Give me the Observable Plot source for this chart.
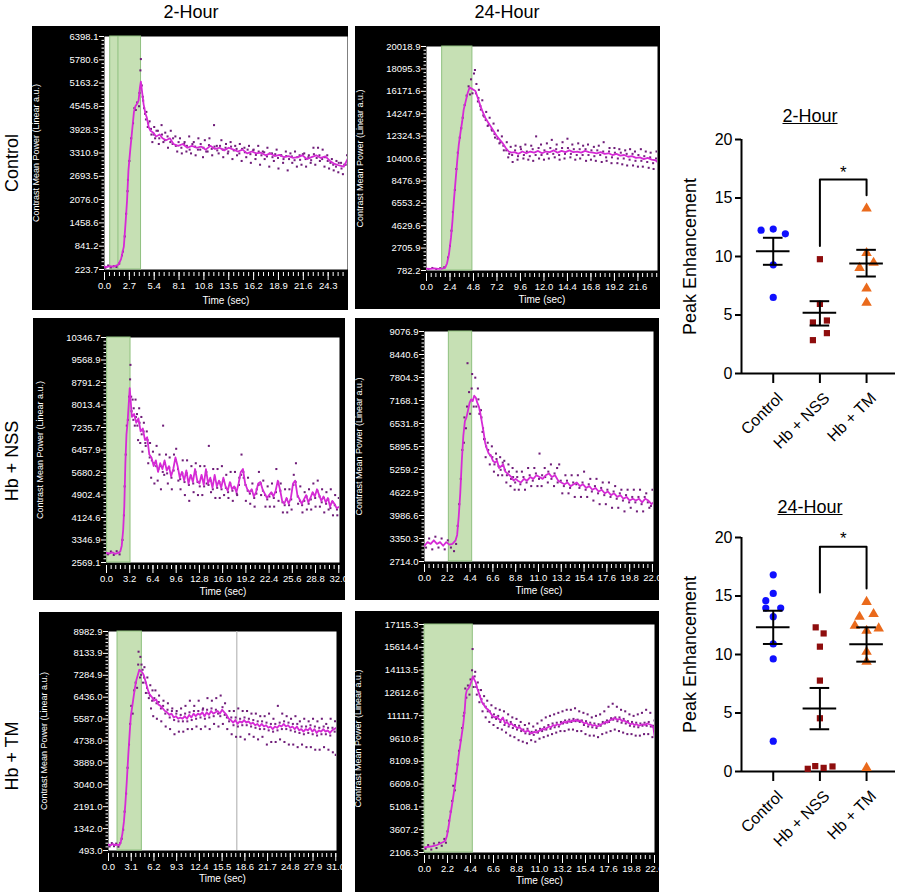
<!DOCTYPE html>
<html><head><meta charset="utf-8">
<script src="https://cdn.jsdelivr.net/npm/d3@7"></script>
<script src="https://cdn.jsdelivr.net/npm/@observablehq/plot@0.6"></script>
<style>
body{margin:0;background:#fff;}
#root{position:relative;width:900px;height:894px;overflow:hidden;font-family:Arial,"Liberation Sans",sans-serif;color:#000;}
#root svg{position:absolute;}
.col{position:absolute;top:1px;font-size:18px;line-height:18px;transform:translateX(-50%);white-space:nowrap;}
.row{position:absolute;font-size:18px;line-height:18px;white-space:nowrap;transform:translate(-50%,-50%) rotate(-90deg);}
.ttl{position:absolute;font-size:18px;line-height:18px;text-decoration:underline;transform:translateX(-50%);white-space:nowrap;}
</style></head><body><div id="root"></div>
<script>
// ---------------- Time-intensity curves ----------------
const ctrl2hYTicks = [223.7, 841.2, 1458.6, 2076.0, 2693.5, 3310.9, 3928.3, 4545.8, 5163.2, 5780.6, 6398.1];
const ctrl2hXTicks = [0.0, 2.7, 5.4, 8.1, 10.8, 13.5, 16.2, 18.9, 21.6, 24.3];
const ctrl2hBand = [0.62, 3.97];
const ctrl2hLine = [[0,300],[0.3,290],[0.6,310],[0.9,300],[1.2,320],[1.5,350],[1.8,500],[2.1,830],[2.3,1500],[2.45,2050],[2.6,2850],[2.8,3400],[3.0,3900],[3.2,4400],[3.35,4550],[3.5,4600],[3.7,4700],[3.85,5050],[3.95,5200],[4.1,4900],[4.25,4600],[4.45,4350],[4.6,4250],[4.8,4000],[5.0,3900],[5.3,3850],[5.6,3750],[6.0,3800],[6.3,3700],[6.7,3650],[7.1,3700],[7.5,3550],[8.0,3500],[8.5,3550],[9.0,3450],[9.5,3500],[10.0,3450],[10.5,3480],[11.0,3400],[11.5,3500],[12.0,3420],[12.5,3450],[13.0,3380],[13.5,3450],[14.0,3400],[14.5,3350],[15.0,3400],[15.5,3300],[16.0,3350],[16.5,3300],[17.0,3320],[17.5,3250],[18.0,3300],[18.5,3230],[19.0,3260],[19.5,3200],[20.0,3230],[20.5,3180],[21.0,3200],[21.5,3250],[22.0,3150],[22.5,3200],[23.0,3250],[23.5,3180],[24.0,3220],[24.5,3100],[25.0,3020],[25.5,2980],[26.0,2950],[26.4,3150]];
const ctrl2hDots = [[0.1,270],[0.4,330],[0.7,280],[1.0,310],[1.3,290],[1.6,380],[1.9,600],[2.0,700],[2.2,1100],[2.35,1700],[2.5,2300],[2.55,2600],[2.7,3100],[2.9,3700],[3.1,4100],[3.25,4500],[3.4,4450],[3.55,4650],[3.75,4550],[3.8,4900],[3.9,5500],[3.95,5800],[4.05,5100],[4.15,4800],[4.3,4500],[4.4,4350],[4.55,4400],[4.7,4000],[4.9,4150],[5.1,3800],[5.2,3600],[5.4,4000],[5.5,3700],[5.8,3900],[5.9,3550],[6.2,4050],[6.4,3600],[6.6,3850],[6.9,3450],[7.2,3900],[7.4,3550],[7.7,3750],[7.9,3350],[8.2,3700],[8.4,3300],[8.7,3600],[8.9,3350],[9.2,3750],[9.4,3300],[9.7,3600],[9.9,3250],[10.2,3700],[10.4,3400],[10.7,3200],[10.9,3650],[11.2,3350],[11.4,3700],[11.7,3250],[11.9,4050],[12.2,3500],[12.4,3300],[12.7,3650],[12.9,3200],[13.2,3550],[13.4,3300],[13.7,3600],[13.9,3150],[14.2,3500],[14.4,3250],[14.7,3550],[14.9,3100],[15.2,3450],[15.4,3200],[15.7,3500],[15.9,3050],[16.2,3400],[16.4,3150],[16.7,3500],[16.9,3000],[17.2,3350],[17.4,3150],[17.7,3450],[17.9,2950],[18.2,3300],[18.4,3100],[18.7,3400],[18.9,2900],[19.2,3250],[19.4,3050],[19.7,3350],[19.9,2850],[20.2,3300],[20.4,3050],[20.7,3350],[20.9,2950],[21.2,3250],[21.4,3000],[21.7,3300],[21.9,2950],[22.2,3250],[22.4,3050],[22.7,3450],[22.9,3000],[23.2,3450],[23.4,3100],[23.7,3400],[23.9,2950],[24.2,3250],[24.4,2900],[24.7,3150],[24.9,2850],[25.2,3100],[25.4,2800],[25.7,3050],[25.9,2750],[26.2,3000],[26.35,3250]];
const ctrl2hDotsNear = [[4.2,4700],[4.5,4200],[4.75,4100],[5.05,3950],[5.35,3800],[5.65,3900],[5.95,3700],[6.25,3800],[6.55,3650],[6.85,3750],[7.15,3600],[7.45,3700],[7.75,3500],[8.05,3600],[8.35,3450],[8.65,3550],[8.95,3500],[9.25,3400],[9.55,3550],[9.85,3480],[10.15,3400],[10.45,3550],[10.75,3450],[11.05,3350],[11.35,3520],[11.65,3420],[11.95,3480],[12.25,3380],[12.55,3500],[12.85,3400],[13.15,3450],[13.45,3350],[13.75,3480],[14.05,3380],[14.35,3420],[14.65,3300],[14.95,3420],[15.25,3330],[15.55,3400],[15.85,3280],[16.15,3380],[16.45,3260],[16.75,3350],[17.05,3250],[17.35,3330],[17.65,3220],[17.95,3300],[18.25,3200],[18.55,3280],[18.85,3180],[19.15,3250],[19.45,3150],[19.75,3230],[20.05,3150],[20.35,3220],[20.65,3120],[20.95,3200],[21.25,3130],[21.55,3280],[21.85,3150],[22.15,3200],[22.45,3120],[22.75,3280],[23.05,3180],[23.35,3250],[23.65,3150],[23.95,3200],[24.25,3100],[24.55,3050],[24.85,3000],[25.15,2950],[25.45,3050],[25.75,2900],[26.05,3000]];

const ctrl24hYTicks = [782.2, 2705.9, 4629.6, 6553.2, 8476.9, 10400.6, 12324.3, 14247.9, 16171.6, 18095.3, 20018.9];
const ctrl24hXTicks = [0.0, 2.4, 4.8, 7.2, 9.6, 12.0, 14.4, 16.8, 19.2, 21.6];
const ctrl24hBand = [1.6, 4.69];
const ctrl24hLine = [[0,950],[0.4,920],[0.8,960],[1.2,930],[1.6,950],[1.9,1000],[2.1,1400],[2.3,2200],[2.5,3600],[2.65,5000],[2.8,6800],[3.0,8800],[3.15,10300],[3.3,11600],[3.5,12800],[3.65,13600],[3.8,14600],[4.0,15300],[4.2,16000],[4.4,16500],[4.6,16400],[4.8,16300],[5.0,16200],[5.2,15700],[5.4,15200],[5.6,14700],[5.8,14300],[6.0,13900],[6.3,13500],[6.6,13100],[6.9,12700],[7.2,12300],[7.5,12000],[7.8,11700],[8.1,11300],[8.4,11000],[8.7,10900],[9.0,10950],[9.4,10800],[9.8,11000],[10.2,10850],[10.6,11000],[11.0,10900],[11.4,11050],[11.8,10850],[12.2,11000],[12.6,10950],[13.0,11100],[13.4,10900],[13.8,11050],[14.2,10950],[14.6,11100],[15.0,10950],[15.4,11000],[15.8,10900],[16.2,11050],[16.6,10950],[17.0,10900],[17.4,10850],[17.8,10950],[18.2,10800],[18.6,10850],[19.0,10700],[19.4,10800],[19.8,10650],[20.2,10700],[20.6,10550],[21.0,10600],[21.4,10450],[21.8,10500],[22.2,10350],[22.6,10450],[23.0,10300],[23.4,10250],[23.6,10100]];
const ctrl24hDots = [[0.2,900],[0.6,1000],[1.0,880],[1.4,980],[1.8,1050],[2.2,1900],[2.4,2900],[2.55,4200],[2.7,5800],[2.9,7700],[3.05,9500],[3.2,10900],[3.4,12200],[3.55,13000],[3.7,13900],[3.9,15000],[4.1,15800],[4.3,16600],[4.45,15900],[4.55,17200],[4.7,16000],[4.85,17700],[4.95,18000],[5.1,16800],[5.25,15300],[5.35,16300],[5.5,14900],[5.7,15400],[5.9,14000],[6.1,14400],[6.25,13200],[6.45,13900],[6.7,12800],[6.85,13400],[7.0,12200],[7.3,12800],[7.45,11700],[7.7,12300],[7.9,11100],[8.2,11800],[8.35,10500],[8.6,11400],[8.8,10100],[9.1,11500],[9.3,10300],[9.6,11400],[9.9,10400],[10.1,11600],[10.4,10300],[10.7,11500],[10.9,10200],[11.2,12300],[11.5,10400],[11.7,11600],[12.0,10300],[12.3,11700],[12.5,10400],[12.8,12000],[13.1,10500],[13.3,11600],[13.6,10300],[13.9,11800],[14.1,10400],[14.4,12100],[14.7,10500],[14.9,11600],[15.2,10300],[15.5,11700],[15.7,10400],[16.0,11500],[16.3,10200],[16.5,11600],[16.8,10300],[17.1,11400],[17.3,10200],[17.6,11500],[17.9,10100],[18.1,11800],[18.4,10200],[18.7,11300],[18.9,10000],[19.2,11300],[19.5,10000],[19.7,11200],[20.0,9900],[20.3,11100],[20.5,9800],[20.8,11200],[21.1,9800],[21.3,11000],[21.6,9700],[21.9,11200],[22.1,9700],[22.4,11000],[22.7,9600],[22.9,10900],[23.2,9500],[23.5,11000]];
const ctrl24hDotsNear = [[5.05,16000],[5.3,15600],[5.55,14600],[5.8,14100],[6.05,13700],[6.35,13300],[6.65,12900],[6.95,12500],[7.25,12100],[7.55,11800],[7.85,11500],[8.15,11100],[8.45,10800],[8.75,10700],[9.05,11100],[9.35,10600],[9.65,11200],[9.95,10700],[10.25,11000],[10.55,10600],[10.85,11200],[11.15,10700],[11.45,11300],[11.75,10700],[12.05,11100],[12.35,10800],[12.65,11300],[12.95,10800],[13.25,11200],[13.55,10700],[13.85,11300],[14.15,10800],[14.45,11300],[14.75,10800],[15.05,11200],[15.35,10700],[15.65,11200],[15.95,10700],[16.25,11200],[16.55,10700],[16.85,11100],[17.15,10600],[17.45,11100],[17.75,10700],[18.05,11000],[18.35,10500],[18.65,11000],[18.95,10500],[19.25,10900],[19.55,10400],[19.85,10900],[20.15,10400],[20.45,10800],[20.75,10300],[21.05,10800],[21.35,10200],[21.65,10700],[21.95,10200],[22.25,10600],[22.55,10100],[22.85,10500],[23.15,10000],[23.45,10400]];

const nss2hYTicks = [2569.1, 3346.9, 4124.6, 4902.4, 5680.2, 6457.9, 7235.7, 8013.4, 8791.2, 9568.9, 10346.7];
const nss2hXTicks = [0.0, 3.2, 6.4, 9.6, 12.8, 16.0, 19.2, 22.4, 25.6, 28.8, 32.0];
const nss2hBand = [0.09, 3.31];
const nss2hLine = [[0,2900],[0.4,2880],[0.8,2920],[1.2,2870],[1.6,2900],[1.9,2950],[2.1,3150],[2.3,3700],[2.45,4500],[2.6,6000],[2.75,7000],[2.9,7400],[3.05,8000],[3.2,8600],[3.35,8100],[3.5,7600],[3.8,7700],[4.1,7400],[4.4,7550],[4.7,7100],[5.0,7200],[5.3,6800],[5.6,6900],[5.9,6300],[6.2,6200],[6.5,5900],[6.8,6100],[7.1,5700],[7.4,6000],[7.7,5800],[8.0,6100],[8.3,5750],[8.6,5900],[8.9,5550],[9.2,5800],[9.5,6200],[9.8,5900],[10.1,5500],[10.4,5700],[10.7,5400],[11.0,5750],[11.3,5300],[11.6,5600],[11.9,5350],[12.2,5800],[12.5,5400],[12.8,5300],[13.1,5600],[13.4,5250],[13.7,5800],[14.0,5300],[14.3,5500],[14.6,5150],[14.9,5600],[15.2,5200],[15.5,5400],[15.8,5150],[16.1,5500],[16.4,5200],[16.7,5050],[17.0,5350],[17.3,5100],[17.6,5200],[17.9,5000],[18.2,5300],[18.5,5700],[18.8,5800],[19.1,5300],[19.4,5100],[19.7,5000],[20.0,5100],[20.3,4850],[20.6,5000],[20.9,5300],[21.2,5350],[21.5,5100],[21.8,4950],[22.1,4800],[22.4,4900],[22.7,5000],[23.0,4850],[23.3,5050],[23.6,5400],[23.9,5100],[24.2,4700],[24.5,4600],[24.8,4800],[25.1,4600],[25.4,4800],[25.7,5300],[26.0,5400],[26.3,4900],[26.6,4750],[26.9,4600],[27.2,4750],[27.5,4900],[27.8,4650],[28.1,4800],[28.4,5000],[28.7,4850],[29.0,5100],[29.3,4900],[29.6,4700],[29.9,4850],[30.2,4650],[30.5,4800],[30.8,4500],[31.1,4700],[31.4,4600],[31.7,4450],[32.1,4500]];
const nss2hDots = [[0.2,2850],[0.6,2950],[1.0,2830],[1.4,2960],[1.8,2850],[2.2,3350],[2.4,4200],[2.5,5200],[2.65,6300],[2.8,7300],[2.95,7500],[3.1,8300],[3.25,8900],[3.3,9400],[3.45,7800],[3.6,8200],[3.75,7900],[3.9,7300],[4.0,8200],[4.2,7700],[4.35,6800],[4.5,7900],[4.65,6700],[4.8,7600],[4.95,6400],[5.15,7400],[5.4,6600],[5.55,7100],[5.75,6000],[6.0,6700],[6.15,5500],[6.4,6400],[6.6,5300],[6.9,6600],[7.05,5400],[7.3,6300],[7.5,5100],[7.8,7300],[7.95,5600],[8.2,6300],[8.45,5300],[8.7,6200],[9.0,5100],[9.3,6300],[9.6,6500],[9.9,5400],[10.2,5100],[10.5,6100],[10.8,4900],[11.1,6100],[11.4,4700],[11.7,5900],[12.0,5000],[12.3,6000],[12.6,4900],[12.9,5900],[13.2,4900],[13.5,5900],[13.8,5300],[14.1,6600],[14.4,5000],[14.7,5800],[15.0,4800],[15.3,5800],[15.6,4800],[15.9,5900],[16.2,4900],[16.5,5600],[16.8,4800],[17.1,5700],[17.4,4700],[17.7,5700],[18.0,4900],[18.3,5500],[18.6,6300],[18.9,5500],[19.2,4700],[19.5,5500],[19.8,4600],[20.1,5300],[20.4,4500],[20.7,5100],[21.0,5700],[21.3,4900],[21.6,5400],[21.9,4500],[22.2,5200],[22.5,4500],[22.8,5300],[23.1,4500],[23.4,5800],[23.7,4700],[24.0,5300],[24.3,4300],[24.6,5100],[24.9,4300],[25.2,5100],[25.5,4400],[25.8,5600],[26.1,6000],[26.4,4600],[26.7,5200],[27.0,4300],[27.3,5000],[27.6,4400],[27.9,5100],[28.2,4400],[28.5,5300],[28.8,4500],[29.1,5400],[29.4,4500],[29.7,5100],[30.0,4300],[30.3,5000],[30.6,4400],[30.9,5100],[31.2,4200],[31.5,4900],[31.8,4200],[32.0,4800]];
const nss2hDotsNear = [[3.4,8300],[3.7,7500],[4.05,7600],[4.25,7300],[4.55,7400],[4.85,7000],[5.1,7100],[5.35,6700],[5.65,6800],[5.95,6200],[6.25,6100],[6.55,6000],[6.85,5900],[7.15,5800],[7.45,5900],[7.75,5700],[8.05,6000],[8.35,5650],[8.65,5850],[8.95,5500],[9.25,5750],[9.55,6100],[9.85,5800],[10.15,5450],[10.45,5650],[10.75,5350],[11.05,5650],[11.35,5250],[11.65,5550],[11.95,5300],[12.25,5700],[12.55,5350],[12.85,5200],[13.15,5500],[13.45,5200],[13.75,5700],[14.05,5250],[14.35,5400],[14.65,5100],[14.95,5500],[15.25,5150],[15.55,5350],[15.85,5100],[16.15,5400],[16.45,5150],[16.75,5000],[17.05,5300],[17.35,5050],[17.65,5150],[17.95,4950],[18.25,5250],[18.55,5600],[18.85,5700],[19.15,5250],[19.45,5050],[19.75,4950],[20.05,5050],[20.35,4800],[20.65,4950],[20.95,5250],[21.25,5300],[21.55,5050],[21.85,4900],[22.15,4750],[22.45,4850],[22.75,4950],[23.05,4800],[23.35,5000],[23.65,5350],[23.95,5050],[24.25,4650],[24.55,4550],[24.85,4750],[25.15,4550],[25.45,4750],[25.75,5250],[26.05,5350],[26.35,4850],[26.65,4700],[26.95,4550],[27.25,4700],[27.55,4850],[27.85,4600],[28.15,4750],[28.45,4950],[28.75,4800],[29.05,5050],[29.35,4850],[29.65,4650],[29.95,4800],[30.25,4600],[30.55,4750],[30.85,4450],[31.15,4650],[31.45,4550],[31.75,4400]];

const nss24hYTicks = [2714.0, 3350.3, 3986.6, 4622.9, 5259.2, 5895.5, 6531.8, 7168.1, 7804.3, 8440.6, 9076.9];
const nss24hXTicks = [0.0, 2.2, 4.4, 6.6, 8.8, 11.0, 13.2, 15.4, 17.6, 19.8, 22.0];
const nss24hBand = [2.35, 4.6];
const nss24hLine = [[0,3150],[0.3,3250],[0.6,3200],[0.9,3300],[1.2,3200],[1.5,3250],[1.8,3150],[2.1,3250],[2.4,3180],[2.7,3200],[3.0,3300],[3.15,3450],[3.3,3950],[3.45,4600],[3.6,5500],[3.75,6200],[3.9,6600],[4.05,6700],[4.2,6900],[4.35,7100],[4.5,7200],[4.65,7150],[4.8,7300],[4.95,7250],[5.1,7100],[5.25,7000],[5.4,6800],[5.55,6550],[5.7,6300],[5.85,6000],[6.0,5850],[6.2,5700],[6.4,5650],[6.6,5500],[6.8,5450],[7.0,5500],[7.2,5300],[7.4,5350],[7.6,5400],[7.8,5200],[8.0,5150],[8.2,5100],[8.4,5050],[8.6,4950],[8.8,5000],[9.0,4950],[9.3,4900],[9.6,5000],[9.9,4950],[10.2,5050],[10.5,5000],[10.8,5100],[11.1,5050],[11.4,5000],[11.7,5100],[12.0,5150],[12.3,5050],[12.6,5100],[12.9,4950],[13.2,4900],[13.5,4850],[13.8,4900],[14.1,4800],[14.4,4850],[14.7,4900],[15.0,4800],[15.3,4850],[15.6,4750],[15.9,4800],[16.2,4700],[16.5,4750],[16.8,4650],[17.1,4700],[17.4,4600],[17.7,4650],[18.0,4550],[18.3,4600],[18.6,4500],[18.9,4550],[19.2,4450],[19.5,4500],[19.8,4400],[20.1,4450],[20.4,4400],[20.7,4450],[21.0,4350],[21.3,4450],[21.6,4400],[21.9,4300],[22.1,4350]];
const nss24hDots = [[0.15,3100],[0.45,3350],[0.75,3050],[1.05,3400],[1.35,3100],[1.65,3350],[1.95,3050],[2.25,3300],[2.55,3100],[2.85,3000],[3.05,3200],[3.2,3700],[3.35,4300],[3.5,5000],[3.65,5800],[3.8,6000],[3.85,6700],[4.0,6400],[4.1,7000],[4.15,8200],[4.3,7400],[4.4,6800],[4.55,7500],[4.6,7900],[4.75,7000],[4.9,7800],[5.0,7000],[5.15,7500],[5.3,6800],[5.45,6900],[5.6,6300],[5.75,6100],[5.9,5600],[6.1,6000],[6.3,5400],[6.5,5900],[6.7,5200],[6.9,5700],[7.1,5100],[7.3,5600],[7.5,5100],[7.7,5500],[7.9,4900],[8.1,5400],[8.3,4800],[8.5,5300],[8.7,4700],[8.9,5200],[9.1,4700],[9.4,5200],[9.7,4700],[10.0,5300],[10.3,4800],[10.6,5300],[10.9,4800],[11.1,5700],[11.3,4800],[11.6,5300],[11.9,4900],[12.2,5400],[12.5,4800],[12.8,5300],[13.0,5400],[13.3,4600],[13.6,5100],[13.9,4600],[14.2,5100],[14.5,4500],[14.8,5100],[15.1,4500],[15.4,5200],[15.7,4500],[16.0,5000],[16.3,4400],[16.6,5000],[16.9,4300],[17.2,4900],[17.5,4300],[17.8,4900],[18.1,4200],[18.4,4800],[18.7,4200],[19.0,4700],[19.3,4100],[19.6,4700],[19.9,4200],[20.2,4700],[20.5,4100],[20.8,4700],[21.1,4100],[21.4,4600],[21.7,4200],[22.0,4700]];
const nss24hDotsNear = [[5.2,7200],[5.35,6900],[5.5,6700],[5.65,6400],[5.8,6100],[5.95,5900],[6.15,5800],[6.35,5650],[6.55,5600],[6.75,5400],[6.95,5550],[7.15,5350],[7.35,5250],[7.55,5450],[7.75,5250],[7.95,5100],[8.15,5200],[8.35,5000],[8.55,5050],[8.75,4900],[8.95,5050],[9.25,4850],[9.55,5050],[9.85,4900],[10.15,5100],[10.45,4950],[10.75,5150],[11.05,5000],[11.35,5100],[11.65,5050],[11.95,5200],[12.25,5000],[12.55,5150],[12.85,4900],[13.15,4950],[13.45,4800],[13.75,4950],[14.05,4750],[14.35,4900],[14.65,4850],[14.95,4750],[15.25,4900],[15.55,4700],[15.85,4850],[16.15,4650],[16.45,4800],[16.75,4600],[17.05,4750],[17.35,4550],[17.65,4700],[17.95,4500],[18.25,4650],[18.55,4450],[18.85,4600],[19.15,4400],[19.45,4550],[19.75,4350],[20.05,4500],[20.35,4350],[20.65,4500],[20.95,4300],[21.25,4500],[21.55,4350],[21.85,4250]];

const tm2hYTicks = [493.0, 1342.0, 2191.0, 3040.0, 3889.0, 4738.0, 5587.0, 6436.0, 7284.9, 8133.9, 8982.9];
const tm2hXTicks = [0.0, 3.1, 6.2, 9.3, 12.4, 15.5, 18.6, 21.7, 24.8, 27.9, 31.0];
const tm2hBand = [1.23, 4.55];
const tm2hMarker = [17.5];
const tm2hLine = [[0,720],[0.3,700],[0.6,740],[0.9,700],[1.2,720],[1.5,700],[1.7,850],[1.9,1150],[2.1,1600],[2.3,2300],[2.5,3200],[2.7,4200],[2.9,5100],[3.05,5700],[3.2,6000],[3.4,6400],[3.6,6800],[3.8,7100],[4.0,7300],[4.2,7500],[4.4,7450],[4.6,7400],[4.8,7300],[5.0,7100],[5.2,6900],[5.4,6700],[5.6,6550],[5.9,6450],[6.2,6300],[6.5,6350],[6.8,6150],[7.1,6100],[7.4,6000],[7.7,5900],[8.0,5850],[8.3,5750],[8.6,5800],[8.9,5650],[9.2,5700],[9.5,5600],[9.8,5650],[10.1,5600],[10.4,5700],[10.7,5600],[11.0,5750],[11.3,5650],[11.6,5800],[11.9,5700],[12.2,5800],[12.5,5750],[12.8,5850],[13.1,5700],[13.4,5850],[13.7,5750],[14.0,5900],[14.3,5800],[14.6,5850],[14.9,5900],[15.2,5800],[15.5,5950],[15.8,5850],[16.1,5750],[16.4,5600],[16.7,5550],[17.0,5450],[17.3,5550],[17.6,5400],[17.9,5500],[18.2,5450],[18.5,5550],[18.8,5450],[19.1,5500],[19.4,5400],[19.7,5450],[20.0,5350],[20.3,5400],[20.6,5300],[20.9,5400],[21.2,5300],[21.5,5350],[21.8,5250],[22.1,5300],[22.4,5200],[22.7,5300],[23.0,5250],[23.3,5350],[23.6,5300],[23.9,5400],[24.2,5300],[24.5,5350],[24.8,5250],[25.1,5300],[25.4,5200],[25.7,5300],[26.0,5150],[26.3,5200],[26.6,5100],[26.9,5200],[27.2,5150],[27.5,5250],[27.8,5100],[28.1,5200],[28.4,5050],[28.7,5150],[29.0,5100],[29.3,5200],[29.6,5100],[29.9,5150],[30.2,5050],[30.5,5150],[30.8,5200],[31.1,5250]];
const tm2hDots = [[0.15,650],[0.45,780],[0.75,660],[1.05,760],[1.35,640],[1.6,780],[1.8,950],[2.0,1300],[2.2,2000],[2.4,2700],[2.6,3700],[2.8,4600],[2.95,5400],[3.1,6100],[3.3,5800],[3.5,6700],[3.7,7000],[3.9,6800],[4.05,7700],[4.1,8200],[4.3,7200],[4.35,8000],[4.5,7700],[4.7,7000],[4.9,7600],[5.1,6600],[5.3,7200],[5.5,6400],[5.7,6900],[5.8,6000],[6.0,6700],[6.1,5700],[6.4,6700],[6.6,5600],[6.9,6500],[7.2,5500],[7.5,6300],[7.8,5300],[8.1,6200],[8.4,5200],[8.7,6000],[9.0,5000],[9.3,5900],[9.6,5100],[9.9,6000],[10.2,5100],[10.5,6100],[10.8,5200],[11.1,6300],[11.4,5200],[11.7,6100],[12.0,5300],[12.3,6300],[12.6,5200],[12.9,6000],[13.2,5300],[13.5,6400],[13.8,5200],[14.1,6300],[14.4,5400],[14.7,6400],[15.0,5300],[15.3,6500],[15.6,5400],[15.9,6200],[16.2,5200],[16.5,5900],[16.8,5000],[17.1,5900],[17.4,4900],[17.7,6000],[18.0,4900],[18.3,5900],[18.6,4800],[18.9,5900],[19.2,5000],[19.5,5800],[19.8,4900],[20.1,5800],[20.4,4800],[20.7,5700],[21.0,4900],[21.3,5700],[21.6,4600],[21.9,5800],[22.2,4700],[22.5,5600],[22.8,4700],[23.1,6100],[23.4,4800],[23.7,5800],[24.0,4700],[24.3,5700],[24.6,4600],[24.9,5600],[25.2,4600],[25.5,5700],[25.8,4500],[26.1,5500],[26.4,4600],[26.7,5600],[27.0,4500],[27.3,5500],[27.6,4500],[27.9,5600],[28.2,4400],[28.5,5500],[28.8,4400],[29.1,5600],[29.4,4500],[29.7,5400],[30.0,4400],[30.3,5600],[30.6,4300],[30.9,5500],[31.0,4200]];
const tm2hDotsNear = [[4.45,7300],[4.65,7500],[4.85,7200],[5.05,7000],[5.25,6800],[5.45,6600],[5.65,6500],[5.95,6300],[6.25,6400],[6.55,6200],[6.85,6250],[7.15,6000],[7.45,6100],[7.75,5800],[8.05,5950],[8.35,5650],[8.65,5900],[8.95,5550],[9.25,5800],[9.55,5500],[9.85,5750],[10.15,5500],[10.45,5800],[10.75,5500],[11.05,5850],[11.35,5550],[11.65,5900],[11.95,5600],[12.25,5900],[12.55,5650],[12.85,5950],[13.15,5600],[13.45,5950],[13.75,5650],[14.05,6000],[14.35,5700],[14.65,5950],[14.95,5800],[15.25,5700],[15.55,6050],[15.85,5750],[16.15,5650],[16.45,5500],[16.75,5650],[17.05,5350],[17.35,5650],[17.65,5300],[17.95,5600],[18.25,5350],[18.55,5650],[18.85,5350],[19.15,5600],[19.45,5300],[19.75,5550],[20.05,5250],[20.35,5500],[20.65,5200],[20.95,5500],[21.25,5200],[21.55,5450],[21.85,5150],[22.15,5400],[22.45,5100],[22.75,5400],[23.05,5150],[23.35,5450],[23.65,5200],[23.95,5500],[24.25,5200],[24.55,5450],[24.85,5150],[25.15,5400],[25.45,5100],[25.75,5400],[26.05,5050],[26.35,5300],[26.65,5000],[26.95,5300],[27.25,5050],[27.55,5350],[27.85,5000],[28.15,5300],[28.45,4950],[28.75,5250],[29.05,5000],[29.35,5300],[29.65,5000],[29.95,5250],[30.25,4950],[30.55,5250],[30.85,5100]];

const tm24hYTicks = [2106.3, 3607.2, 5108.1, 6609.0, 8109.9, 9610.8, 11111.7, 12612.6, 14113.5, 15614.4, 17115.3];
const tm24hXTicks = [0.0, 2.2, 4.4, 6.6, 8.8, 11.0, 13.2, 15.4, 17.6, 19.8, 22.0];
const tm24hBand = [0, 4.62];
const tm24hLine = [[0,2450],[0.3,2480],[0.6,2500],[0.9,2550],[1.2,2600],[1.5,2700],[1.8,2800],[2.0,2900],[2.15,3200],[2.3,3800],[2.45,4500],[2.6,5100],[2.8,6000],[2.95,6700],[3.1,7500],[3.25,8400],[3.4,9100],[3.55,9800],[3.7,10500],[3.85,11500],[3.95,12500],[4.05,12800],[4.2,12900],[4.35,13100],[4.5,13400],[4.62,13700],[4.75,13500],[4.9,13300],[5.05,12900],[5.2,12600],[5.35,12300],[5.5,12000],[5.7,11800],[5.9,11600],[6.1,11500],[6.3,11300],[6.5,11100],[6.7,11000],[6.9,11050],[7.1,10900],[7.3,10800],[7.5,11000],[7.7,10600],[7.9,10700],[8.1,10500],[8.3,10600],[8.5,10450],[8.7,10400],[8.9,10300],[9.1,10350],[9.3,10200],[9.5,10100],[9.7,10050],[9.9,10150],[10.1,10000],[10.3,9950],[10.5,10050],[10.7,10000],[10.9,10100],[11.1,10150],[11.3,10250],[11.5,10200],[11.7,10300],[11.9,10400],[12.1,10350],[12.3,10500],[12.5,10450],[12.7,10550],[12.9,10500],[13.1,10600],[13.3,10700],[13.5,10650],[13.7,10750],[13.9,10700],[14.1,10800],[14.3,10750],[14.5,10850],[14.7,10750],[14.9,10800],[15.1,10700],[15.3,10600],[15.5,10650],[15.7,10500],[15.9,10550],[16.1,10450],[16.3,10500],[16.5,10400],[16.7,10450],[16.9,10550],[17.1,10600],[17.3,10700],[17.5,10650],[17.7,10800],[17.9,10850],[18.1,10950],[18.3,10900],[18.5,10850],[18.7,10900],[18.9,10750],[19.1,10800],[19.3,10700],[19.5,10650],[19.7,10550],[19.9,10600],[20.1,10500],[20.3,10550],[20.5,10450],[20.7,10500],[20.9,10550],[21.1,10500],[21.3,10600],[21.5,10550],[21.7,10500],[21.9,10300],[22.0,9800]];
const tm24hDots = [[0.1,2350],[0.35,2600],[0.65,2300],[0.9,2700],[1.15,2400],[1.4,2750],[1.65,2550],[1.9,3000],[2.05,2750],[2.2,3500],[2.35,4200],[2.5,4800],[2.65,5500],[2.75,6500],[2.9,6200],[3.0,7300],[3.15,7900],[3.3,8800],[3.45,9500],[3.6,10300],[3.75,11100],[3.8,11300],[3.9,12900],[4.0,12300],[4.15,13100],[4.3,12500],[4.4,13500],[4.55,14100],[4.6,15500],[4.7,13000],[4.85,14000],[5.0,12500],[5.1,13300],[5.25,12000],[5.4,12800],[5.55,11400],[5.7,12400],[5.85,11000],[6.0,12100],[6.2,10700],[6.4,11800],[6.6,10500],[6.8,11600],[7.0,10300],[7.2,11500],[7.4,10200],[7.6,11400],[7.8,10000],[8.0,11200],[8.2,9800],[8.4,11000],[8.6,9700],[8.8,10900],[9.0,9500],[9.2,10700],[9.4,9400],[9.6,10500],[9.8,9300],[10.0,10600],[10.2,9500],[10.4,10400],[10.6,9400],[10.8,10600],[11.0,9600],[11.2,10800],[11.4,9700],[11.6,11000],[11.8,9800],[12.0,11100],[12.2,9900],[12.4,11200],[12.6,10000],[12.8,11300],[13.0,10100],[13.2,11400],[13.4,10100],[13.6,11500],[13.8,10200],[14.0,11500],[14.2,10200],[14.4,11600],[14.6,10100],[14.8,11400],[15.0,10100],[15.2,11300],[15.4,9900],[15.6,11200],[15.8,9800],[16.0,11000],[16.2,9800],[16.4,11100],[16.6,9700],[16.8,11200],[17.0,9900],[17.2,11400],[17.4,10000],[17.6,11700],[17.8,10100],[18.0,11900],[18.2,10200],[18.4,11700],[18.6,10100],[18.8,11500],[19.0,10000],[19.2,11400],[19.4,9900],[19.6,11200],[19.8,9900],[20.0,11100],[20.2,9800],[20.4,11200],[20.6,9800],[20.8,11300],[21.0,9900],[21.2,11500],[21.4,9900],[21.6,11300],[21.8,9700],[22.0,10800]];
const tm24hDotsNear = [[4.8,13700],[4.95,13000],[5.15,12800],[5.3,12400],[5.45,12200],[5.65,11900],[5.85,11700],[6.05,11400],[6.25,11400],[6.45,11000],[6.65,11200],[6.85,10900],[7.05,11100],[7.25,10700],[7.45,10900],[7.65,10500],[7.85,10800],[8.05,10400],[8.25,10700],[8.45,10300],[8.65,10500],[8.85,10200],[9.05,10450],[9.25,10100],[9.45,10200],[9.65,9950],[9.85,10250],[10.05,9900],[10.25,10050],[10.45,9850],[10.65,10150],[10.85,10000],[11.05,10250],[11.25,10100],[11.45,10350],[11.65,10200],[11.85,10500],[12.05,10250],[12.25,10600],[12.45,10350],[12.65,10650],[12.85,10400],[13.05,10700],[13.25,10600],[13.45,10800],[13.65,10650],[13.85,10850],[14.05,10700],[14.25,10900],[14.45,10750],[14.65,10850],[14.85,10700],[15.05,10800],[15.25,10500],[15.45,10750],[15.65,10400],[15.85,10650],[16.05,10350],[16.25,10600],[16.45,10300],[16.65,10550],[16.85,10450],[17.05,10700],[17.25,10600],[17.45,10800],[17.65,10700],[17.85,10950],[18.05,10850],[18.25,11000],[18.45,10750],[18.65,11000],[18.85,10650],[19.05,10900],[19.25,10600],[19.45,10750],[19.65,10450],[19.85,10700],[20.05,10400],[20.25,10650],[20.45,10350],[20.65,10600],[20.85,10450],[21.05,10650],[21.25,10450],[21.45,10700],[21.65,10400],[21.85,10450]];

// ---------------- Peak enhancement ----------------
const groups = ["Control", "Hb + NSS", "Hb + TM"];
const ctrl2h = [12.25, 12.34, 11.94, 9.29, 6.5];
const nss2h = [9.77, 5.95, 4.36, 4.53, 3.45, 2.85];
const tm2h = [14.1, 10.3, 9.03, 9.46, 7.26, 6.04];
const mean2h = [10.45, 5.19, 9.4];
const semHi2h = [11.6, 6.18, 10.57];
const semLo2h = [9.29, 4.1, 8.29];
const bracket2h = [10.9, 16.58, 15.24];
const ctrl24h = [16.81, 15.22, 14.6, 13.97, 13.97, 13.23, 10.9, 9.62, 2.59];
const nss24h = [12.32, 11.8, 10.67, 7.77, 4.55, 0.23, 0.46, 0.31, 0.43];
const tm24h = [14.5, 13.23, 13.46, 12.46, 12.23, 12.03, 10.24, 9.39, 0.31];
const mean24h = [12.32, 5.38, 10.87];
const semHi24h = [13.74, 7.14, 12.32];
const semLo24h = [10.9, 3.61, 9.39];
const bracket24h = [15.3, 19.2, 15.65];
// horizontal scatter spread of the points as drawn (category units)
const ctrl2hDodge = [-0.26, 0, 0.26, 0, 0];
const nss2hDodge = [0, 0, -0.15, 0.15, 0.15, -0.15];
const tm2hDodge = [0, 0, -0.15, 0.15, 0, 0];
const ctrl24hDodge = [0, 0, -0.16, -0.16, 0.16, 0, 0, 0, 0];
const nss24hDodge = [-0.09, 0.08, 0, 0, 0, -0.26, -0.1, 0.08, 0.27];
const tm24hDodge = [0, -0.15, 0.15, -0.25, 0.26, 0, 0, 0, 0];

// ---------------- drawing ----------------
const root = document.getElementById("root");
const NARROW = "'Liberation Sans Narrow', 'Arial Narrow', 'Liberation Sans', Arial, sans-serif";
const SANS = "Arial, 'Liberation Sans', sans-serif";

function minorBetween(major, n) {
  const out = [];
  for (let i = 0; i < major.length - 1; i++) {
    const a = major[i], b = major[i + 1];
    for (let k = 1; k < n; k++) out.push(a + (b - a) * k / n);
  }
  return out;
}

function panel(p) {
  const y0 = p.yTicks[0], y1 = p.yTicks[p.yTicks.length - 1];
  const step = p.xTicks[1] - p.xTicks[0];
  const xMinor = [];
  for (let v = 0; v <= p.xMax + 1e-9; v += step / 5) xMinor.push(v);
  const marks = [
    Plot.frame({fill: "#fff", stroke: "none"}),
    Plot.rect([p.band], {x1: d => d[0], x2: d => d[1], y1: y0, y2: y1, fill: "#c6e0b4", stroke: "#8fc07f", strokeWidth: 1})
  ];
  if (p.inner) marks.push(Plot.ruleX(p.inner, {x: d => d, y1: y0, y2: y1, stroke: "#8fc07f", strokeWidth: 1}));
  if (p.marker) marks.push(Plot.ruleX(p.marker, {x: d => d, y1: y0, y2: y1, stroke: "#b8b8b8", strokeWidth: 1.2}));
  marks.push(
    Plot.dot(p.dots, {x: d => d[0], y: d => d[1], symbol: "square", r: 1.15, fill: "#6e1c78", stroke: "none", clip: true}),
    Plot.dot(p.near, {x: d => d[0], y: d => d[1], symbol: "square", r: 1.15, fill: "#7a2284", stroke: "none", clip: true}),
    Plot.line(p.line, {x: d => d[0], y: d => d[1], stroke: "#d62ad6", strokeWidth: 1.8, clip: true}),
    Plot.axisY({ticks: p.yTicks, tickFormat: d => d.toFixed(1), tickSize: 5, tickPadding: 1, label: null, stroke: "#fff", fill: "#fff"}),
    Plot.axisY({ticks: minorBetween(p.yTicks, 6), tickFormat: () => "", tickSize: 2.5, label: null, stroke: "#fff"}),
    Plot.axisX({ticks: p.xTicks, tickFormat: d => d.toFixed(1), tickSize: 8, tickPadding: 2, label: null, stroke: "#fff", fill: "#fff", dy: 3}),
    Plot.axisX({ticks: xMinor, tickFormat: () => "", tickSize: 4, label: null, stroke: "#fff", dy: 3}),
    Plot.text(["Time (sec)"], {text: d => d, frameAnchor: "bottom", dy: p.tdy, fill: "#fff", fontSize: 10}),
    Plot.text(["Contrast Mean Power (Linear a.u.)"], {text: d => d, frameAnchor: "left", textAnchor: "middle", rotate: -90, dx: p.ldx, fill: "#fff", fontSize: 9})
  );
  const svg = Plot.plot({
    width: p.w, height: p.h,
    marginLeft: p.ml, marginRight: p.mr, marginTop: p.mt, marginBottom: p.mb,
    style: {background: "#000", color: "#fff", fontFamily: NARROW, fontSize: "9.5px", overflow: "visible"},
    x: {domain: [0, p.xMax]},
    y: {domain: [y0, y1]},
    marks
  });
  svg.style.left = p.left + "px";
  svg.style.top = p.top + "px";
  root.appendChild(svg);
}

panel({left: 32, top: 26, w: 316, h: 284, ml: 72, mr: 1, mt: 10, mb: 41, xMax: 26.4,
  yTicks: ctrl2hYTicks, xTicks: ctrl2hXTicks, band: ctrl2hBand, inner: [1.46], line: ctrl2hLine, dots: ctrl2hDots, near: ctrl2hDotsNear, tdy: 34, ldx: -68});
panel({left: 355, top: 26, w: 305, h: 283, ml: 71, mr: 3, mt: 20, mb: 39, xMax: 23.6,
  yTicks: ctrl24hYTicks, xTicks: ctrl24hXTicks, band: ctrl24hBand, line: ctrl24hLine, dots: ctrl24hDots, near: ctrl24hDotsNear, tdy: 32, ldx: -66});
panel({left: 33, top: 318, w: 312, h: 282, ml: 73, mr: 6, mt: 19, mb: 38, xMax: 32.1,
  yTicks: nss2hYTicks, xTicks: nss2hXTicks, band: nss2hBand, line: nss2hLine, dots: nss2hDots, near: nss2hDotsNear, tdy: 32, ldx: -66});
panel({left: 355, top: 318, w: 304, h: 282, ml: 69, mr: 6, mt: 13, mb: 39, xMax: 22.1,
  yTicks: nss24hYTicks, xTicks: nss24hXTicks, band: nss24hBand, line: nss24hLine, dots: nss24hDots, near: nss24hDotsNear, tdy: 32, ldx: -65});
panel({left: 39, top: 612, w: 303, h: 280, ml: 69, mr: 6, mt: 19, mb: 42, xMax: 31.1,
  yTicks: tm2hYTicks, xTicks: tm2hXTicks, band: tm2hBand, marker: tm2hMarker, line: tm2hLine, dots: tm2hDots, near: tm2hDotsNear, tdy: 31, ldx: -64});
panel({left: 355, top: 611, w: 304, h: 281, ml: 69, mr: 5, mt: 13, mb: 40, xMax: 22.0,
  yTicks: tm24hYTicks, xTicks: tm24hXTicks, band: tm24hBand, line: tm24hLine, dots: tm24hDots, near: tm24hDotsNear, tdy: 31, ldx: -66});

function dotPlot(c) {
  const X0 = 0.32, X1 = 3.62;
  const symbols = ["circle", "square", "triangle"];
  const colors = ["#1010ff", "#8e0d0d", "#ea6a1c"];
  const sizes = [3.6, 3.5, 3.9];
  const idx = [0, 1, 2];
  const marks = [
    Plot.ruleY([0], {stroke: "#000", strokeWidth: 2}),
    Plot.ruleX([X0], {x: d => d, y1: 0, y2: 20, stroke: "#000", strokeWidth: 2}),
    Plot.axisY({ticks: [0, 5, 10, 15, 20], tickSize: 6, tickPadding: 3, label: null, strokeWidth: 2, fontSize: 16}),
    Plot.axisX({ticks: [1, 2, 3], tickSize: 10, tickFormat: () => "", label: null, strokeWidth: 2}),
    Plot.text(["Peak Enhancement"], {text: d => d, frameAnchor: "left", textAnchor: "middle", rotate: -90, dx: -51, fontSize: 18}),
    Plot.text(groups, {x: (d, i) => i + 1, y: 0, text: d => d, rotate: -45, textAnchor: "end", lineAnchor: "middle", dx: 7, dy: 22, fontSize: 16})
  ];
  c.vals.forEach((vals, g) => {
    marks.push(Plot.dot(vals, {x: (d, j) => g + 1 + c.dodge[g][j], y: d => d, symbol: symbols[g], r: sizes[g], fill: colors[g], stroke: "none"}));
  });
  marks.push(
    Plot.ruleY(idx, {x1: i => i + 1 - 0.36, x2: i => i + 1 + 0.36, y: i => c.mean[i], stroke: "#000", strokeWidth: 2}),
    Plot.ruleX(idx, {x: i => i + 1, y1: i => c.lo[i], y2: i => c.hi[i], stroke: "#000", strokeWidth: 2}),
    Plot.ruleY(idx, {x1: i => i + 1 - 0.21, x2: i => i + 1 + 0.21, y: i => c.hi[i], stroke: "#000", strokeWidth: 2}),
    Plot.ruleY(idx, {x1: i => i + 1 - 0.21, x2: i => i + 1 + 0.21, y: i => c.lo[i], stroke: "#000", strokeWidth: 2}),
    Plot.line([[2, c.bracket[0]], [2, c.bracket[1]], [3, c.bracket[1]], [3, c.bracket[2]]], {x: d => d[0], y: d => d[1], stroke: "#000", strokeWidth: 2}),
    Plot.text(["*"], {x: 2.5, y: c.star, text: d => d, fontSize: 17, lineAnchor: "middle"})
  );
  const svg = Plot.plot({
    width: 230, height: 310,
    marginLeft: 71, marginRight: 5, marginTop: c.mt, marginBottom: c.mb,
    style: {background: "transparent", color: "#000", fontFamily: SANS, fontSize: "16px", overflow: "visible"},
    x: {domain: [X0, X1]},
    y: {domain: [0, 20]},
    marks
  });
  svg.style.left = "670px";
  svg.style.top = c.top + "px";
  root.appendChild(svg);
}

dotPlot({top: 128, mt: 11, mb: 65, vals: [ctrl2h, nss2h, tm2h], dodge: [ctrl2hDodge, nss2hDodge, tm2hDodge],
  mean: mean2h, hi: semHi2h, lo: semLo2h, bracket: bracket2h, star: 17.15});
dotPlot({top: 525, mt: 12, mb: 64, vals: [ctrl24h, nss24h, tm24h], dodge: [ctrl24hDodge, nss24hDodge, tm24hDodge],
  mean: mean24h, hi: semHi24h, lo: semLo24h, bracket: bracket24h, star: 19.95});

// text labels
function addDiv(cls, text, left, top) {
  const d = document.createElement("div");
  d.className = cls; d.textContent = text;
  d.style.left = left + "px"; d.style.top = top + "px";
  root.appendChild(d);
}
addDiv("col", "2-Hour", 191, 3);
addDiv("col", "24-Hour", 507, 3);
addDiv("row", "Control", 12, 163);
addDiv("row", "Hb + NSS", 12, 461);
addDiv("row", "Hb + TM", 12, 756);
addDiv("ttl", "2-Hour", 810, 107);
addDiv("ttl", "24-Hour", 810, 498);
</script></body></html>
